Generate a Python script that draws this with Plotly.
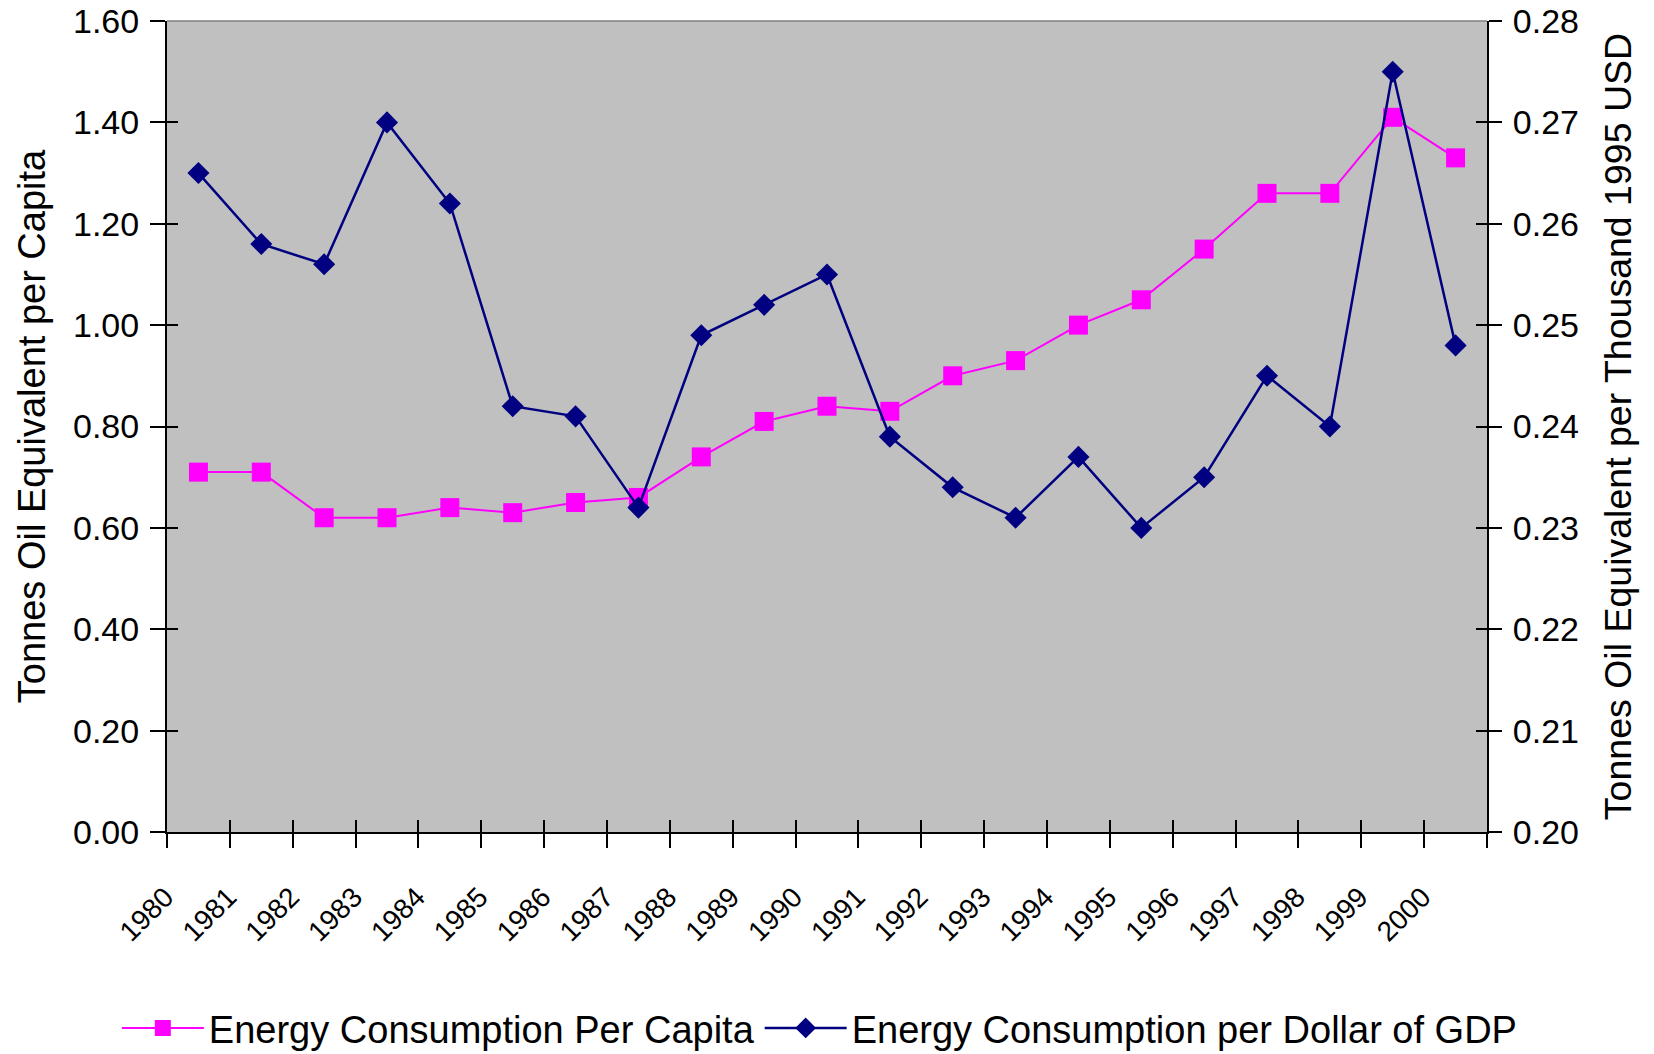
import plotly.graph_objects as go

# Annual series, 1980-2000
years = list(range(1980, 2001))
per_capita = [0.71, 0.71, 0.62, 0.62, 0.64, 0.63, 0.65, 0.66, 0.74, 0.81, 0.84,
              0.83, 0.90, 0.93, 1.00, 1.05, 1.15, 1.26, 1.26, 1.41, 1.33]
per_gdp = [0.265, 0.258, 0.256, 0.270, 0.262, 0.242, 0.241, 0.232, 0.249, 0.252, 0.255,
           0.239, 0.234, 0.231, 0.237, 0.230, 0.235, 0.245, 0.240, 0.275, 0.248]

left_title = "Tonnes Oil Equivalent per Capita"
right_title = "Tonnes Oil Equivalent per Thousand 1995 USD"
name_capita = "Energy Consumption Per Capita"
name_gdp = "Energy Consumption per Dollar of GDP"

FONT = "Liberation Sans, Arial, sans-serif"
PINK = "#FF00FF"
NAVY = "#000080"

# category boundaries carry the tick marks; labels sit at the category centres
bounds = [y - 0.5 for y in years] + [years[-1] + 0.5]
xrange = [bounds[0], bounds[-1]]

fig = go.Figure()

fig.add_trace(go.Scatter(
    x=years, y=per_capita, name=name_capita, mode="lines+markers",
    line=dict(color=PINK, width=2),
    marker=dict(symbol="square", size=19, color=PINK),
    xaxis="x", yaxis="y",
))
fig.add_trace(go.Scatter(
    x=years, y=per_gdp, name=name_gdp, mode="lines+markers",
    line=dict(color=NAVY, width=2.5),
    marker=dict(symbol="diamond", size=17, color=NAVY),
    xaxis="x", yaxis="y2",
))

# empty traces so the helper axes (inside ticks, rotated labels) get drawn
for xa, ya in [("x2", "y3"), ("x3", "y4")]:
    fig.add_trace(go.Scatter(x=[], y=[], xaxis=xa, yaxis=ya, showlegend=False,
                             hoverinfo="skip"))

axis_common = dict(showgrid=False, zeroline=False, tickcolor="black", tickwidth=2)

fig.update_layout(
    width=1654, height=1054,
    margin=dict(l=167, r=167, t=21, b=222, autoexpand=False),
    paper_bgcolor="white",
    plot_bgcolor="#C0C0C0",
    font=dict(family=FONT, color="black"),
    xaxis=dict(
        **axis_common, range=xrange, tickmode="array", tickvals=bounds,
        showticklabels=False, ticks="outside", ticklen=14,
        showline=True, linecolor="black", linewidth=2,
    ),
    xaxis2=dict(
        **axis_common, overlaying="x", anchor="y", matches="x",
        tickmode="array", tickvals=bounds, showticklabels=False,
        ticks="inside", ticklen=12, showline=False,
    ),
    xaxis3=dict(
        showgrid=False, zeroline=False, overlaying="x", anchor="y", matches="x",
        tickmode="array", tickvals=years, ticktext=[str(y) for y in years],
        ticks="", tickangle=-45, tickfont=dict(size=28, family=FONT),
        ticklabelshift=-33, ticklabelstandoff=42, showline=False,
    ),
    yaxis=dict(
        **axis_common, range=[0, 1.6], tickmode="linear", tick0=0, dtick=0.2,
        tickformat=".2f", ticks="outside", ticklen=15,
        tickfont=dict(size=34, family=FONT), ticklabelstandoff=4,
        showline=True, linecolor="black", linewidth=2,
        title=dict(text=left_title, font=dict(size=38, family=FONT), standoff=16),
    ),
    yaxis2=dict(
        **axis_common, overlaying="y", side="right", anchor="x",
        range=[0.2, 0.28], tickmode="linear", tick0=0.2, dtick=0.01,
        tickformat=".2f", ticks="outside", ticklen=13,
        tickfont=dict(size=34, family=FONT), ticklabelstandoff=4,
        showline=True, linecolor="black", linewidth=2,
        title=dict(text=right_title, font=dict(size=37.5, family=FONT), standoff=27),
    ),
    yaxis3=dict(
        **axis_common, overlaying="y", side="left", anchor="x", matches="y",
        tickmode="linear", tick0=0, dtick=0.2, ticks="inside", ticklen=11,
        showticklabels=False, showline=False,
    ),
    yaxis4=dict(
        **axis_common, overlaying="y", side="right", anchor="x", matches="y2",
        tickmode="linear", tick0=0.2, dtick=0.01, ticks="inside", ticklen=11,
        showticklabels=False, showline=False,
    ),
    legend=dict(
        orientation="h", x=-0.038, xanchor="left", y=-0.242, yanchor="middle",
        font=dict(size=38, family=FONT), itemwidth=82, bgcolor="rgba(0,0,0,0)",
    ),
    shapes=[dict(type="line", xref="paper", yref="paper", x0=0, x1=1, y0=1, y1=1,
                 line=dict(color="#808080", width=1.5))],
    showlegend=True,
)

fig.write_html("out.html")
